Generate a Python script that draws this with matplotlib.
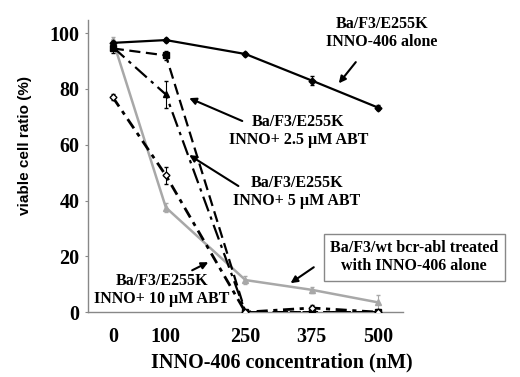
import matplotlib
matplotlib.use('Agg')
from matplotlib import pyplot as plt

conc = [0, 100, 250, 375, 500]

alone = [96.5, 97.5, 92.5, 83, 73.3]
alone_err = [0.5, 0.8, 0.8, 1.5, 0.8]
abt25 = [94.5, 92, 0, 0, 0]
abt25_err = [1.5, 1.5, 0.3, 0.3, 0.3]
abt5 = [95, 78, 0, 0, 0]
abt5_err = [1, 5, 0.3, 0.3, 0.3]
abt10 = [77, 49, 0, 1.5, 0]
abt10_err = [1, 3, 0.3, 1, 0.3]
wt = [97.5, 37.5, 11.5, 8, 3.5]
wt_err = [1, 1.5, 1.5, 1, 2.5]

plt.rcParams['font.family'] = 'Liberation Serif'
plt.rcParams['font.weight'] = 'bold'

fig = plt.figure(figsize=(5.2, 3.77), dpi=100)
ax = fig.add_axes([0.169, 0.172, 0.606, 0.775])

ax.errorbar(conc, wt, yerr=wt_err, color='#a8a8a8', lw=1.8, marker='^', ms=5,
            capsize=1.5, elinewidth=0.8, zorder=2)
ax.errorbar(conc, alone, yerr=alone_err, color='black', lw=1.6, marker='D', ms=3.5,
            capsize=1.5, elinewidth=0.8, zorder=3)
ax.errorbar(conc, abt25, yerr=abt25_err, color='black', lw=1.6, ls=(0, (5, 2.5)),
            marker='s', ms=4, capsize=1.5, elinewidth=0.8, zorder=3)
ax.errorbar(conc, abt5, yerr=abt5_err, color='black', lw=1.6, ls=(0, (7, 2.5, 1.5, 2.5)),
            marker='^', ms=4, capsize=1.5, elinewidth=0.8, zorder=3)
ax.errorbar(conc, abt10, yerr=abt10_err, color='black', lw=2.0, ls=(0, (4, 2, 1.5, 2)),
            marker='D', ms=3.5, mfc='white', capsize=1.5, elinewidth=0.8, zorder=4)

ax.set_xlim(-47, 547)
ax.set_ylim(0, 104.7)
ax.set_xticks(conc)
ax.set_yticks([0, 20, 40, 60, 80, 100])
ax.tick_params(axis='x', length=0, pad=11, labelsize=14.5)
ax.tick_params(axis='y', length=2, width=0.8, color='#888888', labelsize=14.5, pad=4)
for s in ['top', 'right']:
    ax.spines[s].set_visible(False)
for s in ['left', 'bottom']:
    ax.spines[s].set_color('#888888')
    ax.spines[s].set_linewidth(1.0)

ax.set_xlabel('INNO-406 concentration (nM)', fontsize=14.5, fontweight='bold')
ax.xaxis.set_label_coords(0.616, -0.137)
ax.set_ylabel('viable cell ratio (%)', fontsize=11, fontweight='bold', family='Liberation Sans')
ax.yaxis.label.set_va('center')
ax.yaxis.set_label_coords(-0.2, 0.57)

arrow = dict(arrowstyle='-|>', color='black', lw=1.5, mutation_scale=10, shrinkA=0, shrinkB=0)
fs = 11.5
ax.text(507, 100, 'Ba/F3/E255K\nINNO-406 alone', ha='center', va='center',
        fontsize=fs, fontweight='bold', clip_on=False)
ax.annotate('', xy=(426, 82), xytext=(458, 89.6), arrowprops=arrow)
ax.text(350, 64.9, 'Ba/F3/E255K\nINNO+ 2.5 \u00b5M ABT', ha='center', va='center',
        fontsize=fs, fontweight='bold')
ax.annotate('', xy=(144, 76.7), xytext=(244, 68.5), arrowprops=arrow)
ax.text(346.6, 43, 'Ba/F3/E255K\nINNO+ 5 \u00b5M ABT', ha='center', va='center',
        fontsize=fs, fontweight='bold')
ax.annotate('', xy=(144, 56.3), xytext=(236.7, 45.2), arrowprops=arrow)
ax.text(92.8, 7.9, 'Ba/F3/E255K\nINNO+ 10 \u00b5M ABT', ha='center', va='center',
        fontsize=fs, fontweight='bold')
ax.annotate('', xy=(180, 17.9), xytext=(149.6, 15), arrowprops=arrow)
ax.text(568, 19.7, 'Ba/F3/wt bcr-abl treated\nwith INNO-406 alone', ha='center', va='center',
        fontsize=fs, fontweight='bold', clip_on=False,
        bbox=dict(boxstyle='square,pad=0.4', fc='white', ec='#888888', lw=1.0))
ax.annotate('', xy=(335, 10.4), xytext=(378.8, 16.1), arrowprops=arrow)

fig.savefig('out.png', dpi=100)
